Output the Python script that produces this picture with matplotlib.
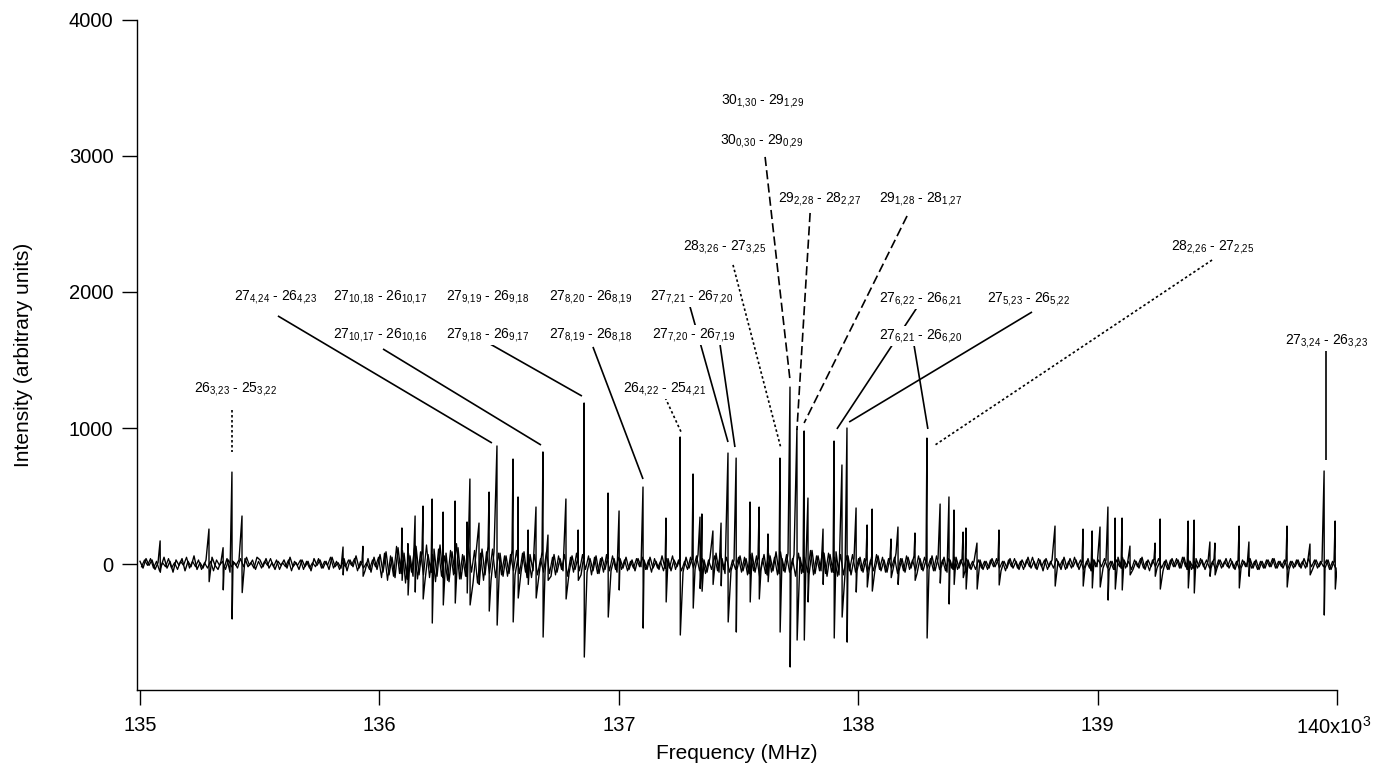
import numpy as np
import matplotlib
matplotlib.use("Agg")
import matplotlib.pyplot as plt
import matplotlib.transforms as mtransforms

plt.rcParams['font.family'] = ['Liberation Sans', 'DejaVu Sans']
plt.rcParams['mathtext.fontset'] = 'custom'
plt.rcParams['mathtext.rm'] = 'Liberation Sans'

# strong lines: frequency (MHz), positive and negative lobe
line_freq = [135084, 135288, 135347, 135384, 135426, 135848, 135931,
             136094, 136119, 136149, 136182, 136220, 136266, 136316, 136366,
             136378, 136416, 136458, 136491, 136558, 136579, 136621, 136654,
             136683, 136704, 136779, 136830, 136855, 136955, 137001, 137101,
             137197, 137256, 137310, 137339, 137347, 137393, 137427, 137456,
             137490, 137548, 137586, 137623, 137673, 137715, 137744, 137774,
             137790, 137853, 137899, 137932, 137953, 137991, 138037, 138058,
             138137, 138166, 138237, 138287, 138342, 138379, 138400, 138438,
             138450, 138496, 138588, 138822, 138939, 138977, 139010, 139043,
             139073, 139102, 139135, 139240, 139261, 139378, 139403, 139469,
             139490, 139591, 139632, 139791, 139887, 139946, 139992]
line_up = [170, 257, 120, 676, 353, 125, 130,
           265, 150, 353, 426, 478, 382, 463, 309,
           625, 301, 529, 868, 772, 493, 250, 419,
           824, 213, 478, 250, 1184, 522, 390, 566,
           338, 934, 662, 345, 368, 243, 301, 816,
           779, 456, 419, 221, 779, 1301, 993, 978,
           485, 257, 904, 728, 1000, 412, 287, 404,
           184, 272, 228, 926, 441, 493, 397, 235,
           265, 154, 250, 279, 257, 243, 272, 419,
           338, 338, 132, 154, 331, 316, 323, 162,
           154, 279, 162, 279, 147, 684, 316]
line_down = [-60, -130, -190, -404, -210, -80, -90,
             -120, -228, -206, -257, -434, -301, -287, -213,
             -301, -150, -346, -449, -426, -250, -150, -250,
             -537, -120, -257, -120, -684, -390, -191, -471,
             -279, -522, -324, -180, -200, -150, -160, -426,
             -500, -279, -257, -130, -500, -757, -559, -559,
             -279, -150, -544, -390, -574, -206, -169, -199,
             -100, -150, -120, -544, -140, -294, -150, -100,
             -184, -184, -154, -162, -162, -176, -169, -265,
             -184, -191, -80, -90, -184, -176, -213, -90,
             -80, -176, -90, -169, -80, -375, -184]

# baseline noise (x10), 0.5 GHz per row; second set sits half a step later
noise_a = [
    2, -3, 4, -1, 3, -4, 1, -2, 5, -3, 2, -6, 3, -1, 4, -5, 2, -2, 6, -4, 1, -3, 3, -2, 5, -1, -4, 2, -3, 4, -6, 2, -1, 3, -5, 4, -2, 1, -3, 5,
    3, -2, 4, -3, 1, -4, 2, -1, 3, -3, 5, -2, 1, -4, 3, -2, 2, -5, 4, -1, 3, -3, 2, -4, 5, -2, 1, -3, 4, -5, 3, -2, 6, -3, 2, -5, 4, -6, 5, -4,
    7, -6, 9, -8, 5, -10, 12, -7, 8, -11, 6, -9, 13, -8, 10, -12, 7, -6, 11, -9, 14, -10, 8, -13, 9, -7, 12, -11, 6, -9, 10, -14, 8, -10, 11, -8, 13, -12, 9, -7,
    8, -9, 6, -7, 10, -8, 5, -6, 9, -10, 7, -5, 6, -8, 9, -6, 5, -9, 7, -6, 4, -5, 8, -7, 6, -4, 5, -8, 7, -6, 4, -5, 6, -7, 5, -4, 6, -5, 4, -6,
    4, -3, 5, -4, 3, -5, 4, -2, 3, -4, 5, -3, 2, -4, 6, -3, 4, -5, 3, -2, 4, -6, 5, -3, 4, -4, 7, -5, 3, -6, 5, -4, 8, -6, 4, -7, 6, -5, 3, -4,
    6, -5, 4, -7, 8, -6, 5, -4, 7, -8, 6, -5, 9, -7, 4, -6, 8, -5, 7, -9, 5, -6, 4, -8, 10, -7, 6, -5, 8, -9, 7, -6, 9, -8, 5, -7, 6, -8, 4, -5,
    5, -6, 4, -5, 7, -4, 6, -5, 3, -6, 5, -4, 8, -5, 4, -6, 5, -3, 6, -7, 4, -5, 3, -4, 6, -5, 4, -3, 5, -6, 3, -4, 5, -3, 4, -5, 3, -4, 2, -3,
    3, -4, 2, -3, 4, -2, 3, -5, 2, -3, 4, -3, 2, -4, 3, -2, 5, -3, 2, -4, 3, -5, 4, -2, 3, -3, 2, -4, 5, -3, 4, -2, 3, -4, 2, -3, 4, -5, 3, -2,
    4, -3, 3, -5, 2, -4, 5, -3, 3, -2, 4, -4, 2, -3, 5, -4, 3, -2, 4, -3, 2, -5, 3, -4, 4, -2, 3, -3, 5, -4, 2, -3, 4, -2, 3, -4, 2, -3, 4, -3,
    3, -2, 4, -3, 2, -4, 3, -3, 2, -2, 4, -3, 3, -4, 2, -3, 3, -2, 4, -3, 2, -3, 3, -4, 2, -2, 3, -3, 4, -2, 2, -3, 3, -2, 2, -3, 3, -4, 2, -3,
]
noise_b = [
    -2, 3, -1, 4, -3, 2, -5, 1, -2, 4, -3, 1, -4, 2, -1, 5, -3, 2, -2, 3, -4, 1, -3, 2, -5, 3, -1, 2, -4, 3, -2, 1, -3, 4, -2, 5, -1, 3, -4, 2,
    -3, 2, -1, 4, -2, 3, -4, 1, -2, 3, -5, 2, -1, 3, -4, 2, -3, 1, -2, 4, -3, 2, -1, 5, -3, 2, -4, 1, -2, 3, -1, 4, -5, 2, -3, 1, -4, 3, -2, 5,
    -10, 8, -12, 6, -9, 13, -7, 10, -14, 8, -6, 12, -11, 9, -8, 14, -10, 7, -13, 11, -9, 6, -12, 10, -8, 15, -11, 7, -9, 13, -6, 10, -14, 8, -12, 9, -7, 11, -10, 8,
    -8, 6, -9, 7, -5, 10, -7, 8, -6, 5, -10, 7, -8, 4, -6, 9, -7, 5, -8, 6, -4, 7, -9, 5, -6, 8, -5, 7, -4, 6, -8, 5, -7, 4, -6, 7, -5, 6, -4, 5,
    -4, 3, -5, 2, -3, 4, -2, 5, -4, 3, -6, 4, -3, 2, -5, 4, -3, 6, -4, 3, -5, 2, -4, 5, -3, 6, -5, 4, -7, 3, -4, 6, -5, 8, -4, 5, -6, 3, -4, 5,
    -6, 5, -8, 7, -5, 6, -9, 4, -7, 8, -6, 5, -8, 9, -5, 7, -6, 4, -9, 8, -7, 5, -6, 10, -8, 6, -5, 9, -7, 8, -6, 5, -9, 7, -8, 6, -5, 7, -6, 4,
    -5, 4, -6, 3, -5, 7, -4, 5, -6, 4, -3, 5, -7, 4, -5, 6, -4, 3, -5, 6, -4, 5, -3, 4, -5, 6, -4, 3, -5, 4, -3, 5, -4, 3, -2, 4, -3, 2, -4, 3,
    -3, 2, -4, 3, -2, 4, -3, 2, -5, 3, -2, 4, -3, 2, -4, 3, -2, 5, -3, 4, -2, 3, -4, 2, -3, 4, -2, 3, -4, 2, -3, 5, -2, 3, -4, 2, -3, 4, -2, 3,
    -2, 4, -3, 2, -4, 3, -2, 5, -3, 2, -4, 3, -2, 4, -3, 2, -5, 3, -2, 4, -3, 2, -4, 3, -2, 4, -3, 5, -2, 3, -4, 2, -3, 4, -2, 3, -3, 2, -4, 3,
    -3, 2, -2, 4, -3, 2, -4, 3, -2, 3, -3, 2, -4, 2, -3, 3, -2, 4, -3, 2, -2, 3, -4, 2, -3, 3, -2, 2, -3, 4, -2, 3, -3, 2, -2, 3, -4, 2, -3, 2,
]

# assignments: label, text position (MHz, intensity)
labels = [
    ('26', '3,23', '25', '3,22', 135401, 1265),
    ('27', '4,24', '26', '4,23', 135568, 1940),
    ('27', '10,18', '26', '10,17', 136002, 1940),
    ('27', '10,17', '26', '10,16', 136002, 1662),
    ('27', '9,19', '26', '9,18', 136454, 1940),
    ('27', '9,18', '26', '9,17', 136454, 1662),
    ('27', '8,20', '26', '8,19', 136884, 1940),
    ('27', '8,19', '26', '8,18', 136884, 1662),
    ('27', '7,21', '26', '7,20', 137306, 1940),
    ('27', '7,20', '26', '7,19', 137314, 1662),
    ('26', '4,22', '25', '4,21', 137193, 1265),
    ('28', '3,26', '27', '3,25', 137444, 2310),
    ('30', '1,30', '29', '1,29', 137602, 3382),
    ('30', '0,30', '29', '0,29', 137598, 3088),
    ('29', '2,28', '28', '2,27', 137840, 2662),
    ('29', '1,28', '28', '1,27', 138262, 2662),
    ('27', '6,22', '26', '6,21', 138262, 1926),
    ('27', '6,21', '26', '6,20', 138262, 1654),
    ('27', '5,23', '26', '5,22', 138713, 1926),
    ('28', '2,26', '27', '2,25', 139482, 2310),
    ('27', '3,24', '26', '3,23', 139958, 1617),
]

# connectors: start (MHz, int), end (MHz, int), style
connectors = [
    (135384, 1132, 135384, 824, 'dot'),
    (135576, 1824, 136470, 890, 'solid'),
    (136015, 1581, 136675, 875, 'solid'),
    (136462, 1618, 136846, 1235, 'solid'),
    (136892, 1596, 137101, 625, 'solid'),
    (137293, 1919, 137456, 897, 'solid'),
    (137423, 1610, 137485, 860, 'solid'),
    (137185, 1257, 137260, 971, 'dot'),
    (137477, 2199, 137677, 853, 'dot'),
    (137611, 2993, 137715, 1353, 'dash'),
    (137799, 2581, 137744, 985, 'dash'),
    (138204, 2559, 137774, 1037, 'dash'),
    (138258, 1919, 137911, 993, 'solid'),
    (138233, 1610, 138291, 993, 'solid'),
    (138726, 1853, 137962, 1044, 'solid'),
    (139478, 2235, 138321, 875, 'dot'),
    (139954, 1610, 139954, 765, 'solid'),
]
styles = {'solid': '-', 'dash': (0, (5.5, 2.5)), 'dot': (0, (1.5, 1.5))}

# build the traces
grid = np.linspace(135000, 140000, len(noise_a))
step = grid[1] - grid[0]
fx = list(grid)
fy = [v * 10 for v in noise_a]
for f, u, d in zip(line_freq, line_up, line_down):
    fx += [f, f + 0.8]
    fy += [u, d]
order = np.argsort(fx, kind='stable')
fx = np.array(fx)[order]
fy = np.array(fy)[order]
bx = grid[:-1] + step / 2
by = np.array(noise_b[:len(bx)]) * 10

fig = plt.figure(figsize=(13.73, 7.68), dpi=100)
ax = fig.add_axes([0.0998, 0.1016, 0.874, 0.8724])
ax.plot(bx, by, color='black', lw=0.9, zorder=2)
ax.plot(fx, fy, color='black', lw=1.0, zorder=2)

for x1, y1, x2, y2, st in connectors:
    ax.plot([x1, x2], [y1, y2], color='black', lw=1.2, linestyle=styles[st],
            zorder=3, solid_capstyle='butt')

for a, sa, b, sb, x, y in labels:
    sa = sa.replace(',', '{,}')
    sb = sb.replace(',', '{,}')
    txt = r'$\mathregular{%s_{%s}}$ - $\mathregular{%s_{%s}}$' % (a, sa, b, sb)
    ax.text(x, y, txt, fontsize=10, ha='center', va='baseline', zorder=5,
            bbox=dict(facecolor='white', edgecolor='none', pad=0.5))

ax.set_xlim(134987.5, 140000)
ax.set_ylim(-926, 4000)
ax.set_xticks([135000, 136000, 137000, 138000, 139000, 140000])
ax.set_xticklabels(['135', '136', '137', '138', '139', ''])
ax.set_yticks([0, 1000, 2000, 3000, 4000])
ax.tick_params(direction='out', length=11, width=1, labelsize=14.5)
ax.tick_params(axis='x', pad=8)
ax.tick_params(axis='y', pad=6)
for s in ['top', 'right']:
    ax.spines[s].set_visible(False)
for s in ['left', 'bottom']:
    ax.spines[s].set_linewidth(1)

# last tick label carries the x10^3 multiplier
trans = mtransforms.blended_transform_factory(ax.transData, ax.transAxes)
ax.text(139985, -0.0555, r'140x10$^\mathregular{3}$', transform=trans,
        fontsize=14.5, ha='center', va='center')

ax.set_xlabel('Frequency (MHz)', fontsize=15, labelpad=6)
ax.set_ylabel('Intensity (arbitrary units)', fontsize=15)
ax.yaxis.set_label_coords(-0.087, 0.5)

plt.savefig('out.png', dpi=100)
